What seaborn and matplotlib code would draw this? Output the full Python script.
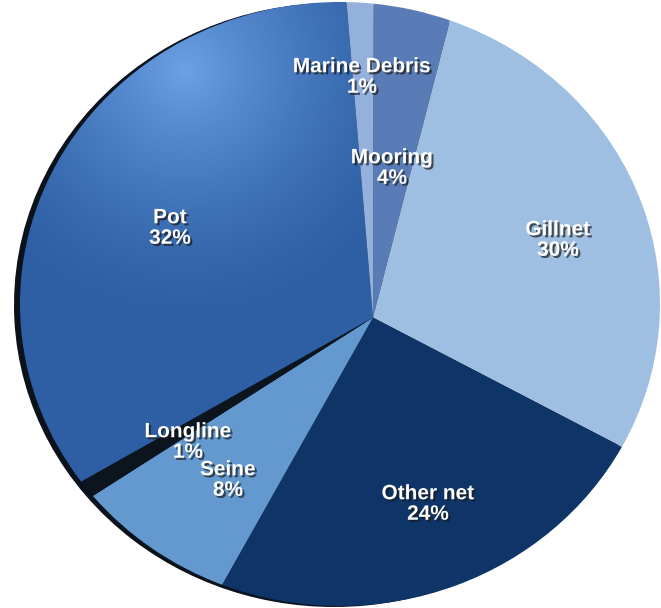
import numpy as np
import matplotlib

matplotlib.use('Agg')

import matplotlib.pyplot as plt
import matplotlib.patheffects as pe
from matplotlib.patches import Circle
from matplotlib.transforms import Transform, Affine2D
import seaborn as sns

sns.set_style("white")
plt.rcParams['font.family'] = ['Liberation Sans', 'DejaVu Sans']

# slices, clockwise from 12 o'clock (sizes)
gear = ["Mooring", "Gillnet", "Other net", "Seine", "Longline", "Pot", "Marine Debris"]
share = [3.8, 29.2, 24.8, 7.8, 0.9, 32.2, 1.3]
# percentages as printed on the chart
shown = [4, 30, 24, 8, 1, 32, 1]
colors = ["#5a7cb6", "#9fbfe2", "#0f3468", "#6399cf", "#0c141e", "#2e5fa5", "#93b1dc"]

# label centres in pixels (from top-left)
label_xy = [(392, 168), (558, 240), (428, 504), (228, 480), (188, 442), (170, 228), (362, 77)]


class Tilt(Transform):
    """Projective 'tilt' of the unit disc: keeps the rim on an ellipse
    but moves the apex of the slices off-centre, like the 3d look."""
    input_dims = 2
    output_dims = 2
    is_separable = False
    has_inverse = False

    def __init__(self, bx, by, cx, cy, rx, ry):
        super().__init__()
        self.b = np.array([bx, by])
        self.cx, self.cy, self.rx, self.ry = cx, cy, rx, ry

    def transform_non_affine(self, values):
        v = np.asarray(values, dtype=float).reshape(-1, 2)
        beta = np.hypot(*self.b)
        n = self.b / beta
        par = v @ n
        perp = v - np.outer(par, n)
        den = 1 + beta * par
        g = 1 / np.sqrt(1 - beta ** 2)
        out = np.outer((par + beta) / den, n) + perp / (g * den)[:, None]
        return np.column_stack([self.cx + self.rx * out[:, 0],
                                self.cy - self.ry * out[:, 1]])


fig = plt.figure(figsize=(6.61, 6.08), dpi=100)
ax = fig.add_axes([0, 0, 1, 1])

tilt = Tilt(0.103, -0.045, 340, 304, 320, 302)

# dark rim showing on the left side
rim = Circle((0, 0), 1, facecolor="#0b121c", edgecolor="none")
ax.add_patch(rim)
rim.set_transform(tilt + Affine2D().translate(-6, 1) + ax.transData)

wedges, _ = ax.pie(share, colors=colors, startangle=90, counterclock=False,
                   wedgeprops=dict(linewidth=0))
for w in wedges:
    w.set_transform(tilt + ax.transData)

# soft highlight on the big Pot slice (upper left)
yy, xx = np.mgrid[0:608, 0:661]
d = np.hypot(xx - 185, yy - 70) / 260
glow = np.zeros((608, 661, 4))
glow[..., :3] = (0.47, 0.68, 0.95)
glow[..., 3] = 0.85 * np.clip(1 - d, 0, 1) ** 1.6
im = ax.imshow(glow, extent=(0, 661, 608, 0), zorder=wedges[5].get_zorder() + 0.1,
               interpolation="bilinear")
im.set_clip_path(wedges[5])

for name, s, (x, y) in zip(gear, shown, label_xy):
    ax.text(x, y, f"{name}\n{s}%", ha="center", va="center", color="white",
            fontsize=15, fontweight="bold", linespacing=1.1, zorder=5,
            path_effects=[pe.withSimplePatchShadow(offset=(1.5, -1.5),
                                                   shadow_rgbFace="#1a1a1a",
                                                   alpha=0.7)])

ax.set_aspect("auto")
ax.set_xlim(0, 661)
ax.set_ylim(608, 0)
ax.axis("off")

fig.savefig("out.png", dpi=100)
